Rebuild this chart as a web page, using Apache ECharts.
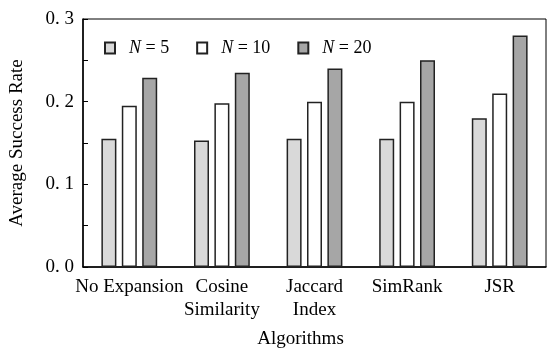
<!DOCTYPE html>
<html>
<head>
<meta charset="utf-8">
<script src="https://cdn.jsdelivr.net/npm/echarts@6/dist/echarts.min.js"></script>
<style>
  html, body { margin: 0; padding: 0; background: #fff; }
  #main { width: 547px; height: 354px; }
</style>
</head>
<body>
<div id="main"></div>
<script>
var chartDom = document.getElementById('main');
var myChart = echarts.init(chartDom);
var option;

let algorithms = ['No Expansion', 'Cosine\nSimilarity', 'Jaccard\nIndex', 'SimRank', 'JSR'];
let seriesNames = ['N=5', 'N=10', 'N=20'];
let n5 = [0.155, 0.153, 0.155, 0.155, 0.18];
let n10 = [0.195, 0.198, 0.2, 0.2, 0.21];
let n20 = [0.229, 0.235, 0.24, 0.25, 0.28];
let fills = ['#d9d9d9', '#ffffff', '#a6a6a6'];

let font = '"Liberation Serif", "DejaVu Serif", serif';
let values = [n5, n10, n20];

option = {
  animation: false,
  backgroundColor: '#fff',
  grid: {
    left: 80,
    right: 1,
    top: 19,
    bottom: 84,
    show: true,
    borderColor: '#000',
    borderWidth: 1
  },
  legend: {
    left: 99,
    top: 34,
    icon: 'rect',
    itemWidth: 10,
    itemHeight: 11,
    itemGap: 27,
    data: seriesNames,
    formatter: function (name) {
      return '{i|N}{t| = ' + name.split('=')[1] + '}';
    },
    textStyle: {
      padding: [0, 0, 0, 9],
      rich: {
        i: { fontFamily: font, fontSize: 18, fontStyle: 'italic', color: '#000' },
        t: { fontFamily: font, fontSize: 18, color: '#000' }
      }
    }
  },
  xAxis: {
    type: 'category',
    data: algorithms,
    name: 'Algorithms',
    nameLocation: 'middle',
    nameGap: 63,
    nameTextStyle: { fontFamily: font, fontSize: 19, color: '#000', padding: [0, 28, 0, 0] },
    axisLine: { lineStyle: { color: '#000', width: 1.5 } },
    axisTick: { show: false },
    axisLabel: {
      interval: 0,
      margin: 9,
      fontFamily: font,
      fontSize: 19,
      lineHeight: 23,
      color: '#000'
    }
  },
  yAxis: {
    type: 'value',
    min: 0,
    max: 0.3,
    interval: 0.05,
    name: 'Average Success Rate',
    nameLocation: 'middle',
    nameGap: 56,
    nameTextStyle: { fontFamily: font, fontSize: 19, color: '#000' },
    axisLine: { show: true, lineStyle: { color: '#000', width: 1.5 } },
    axisTick: { show: true, inside: true, length: 5, lineStyle: { color: '#000', width: 1 } },
    splitLine: { show: false },
    axisLabel: {
      margin: 9,
      fontFamily: font,
      fontSize: 19,
      color: '#000',
      formatter: function (v) {
        let r = Math.round(v * 100);
        if (r % 10 !== 0) return '';
        return '0. ' + (r / 10);
      }
    }
  },
  series: seriesNames.map(function (name, i) {
    return {
      name: name,
      type: 'bar',
      data: values[i],
      barWidth: 15,
      barGap: '36%',
      itemStyle: { color: fills[i], borderColor: '#222', borderWidth: 1.5 }
    };
  })
};

option && myChart.setOption(option);
</script>
</body>
</html>
